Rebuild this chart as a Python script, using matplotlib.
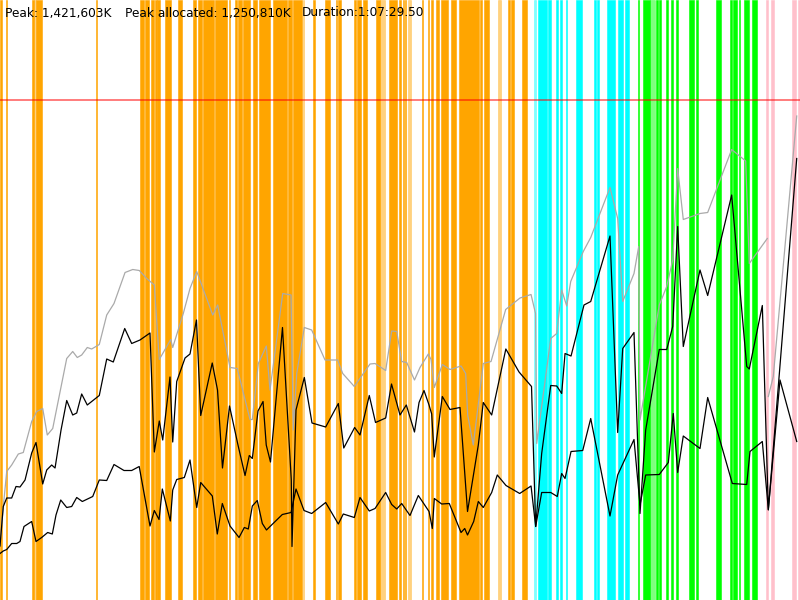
import numpy as np
import matplotlib
matplotlib.use("Agg")
import matplotlib.pyplot as plt

# time in % of run duration, memory in % of peak (1,421,603K)
PEAK_K = 1421603
PEAK_ALLOC_K = 1250810
DURATION = "1:07:29.50"

alloc_t = [0, 0.41, 0.84, 1.46, 2.0, 2.5, 3.13, 3.96, 4.5, 5.34, 5.84, 6.46, 6.88, 7.63, 8.34,
           9.09, 9.59, 10.21, 10.91, 12.41, 13.34, 14.16, 15.59, 16.46, 17.5, 18.75, 19.29,
           19.91, 20.34, 21.25, 21.59, 22.09, 23.13, 23.75, 24.56, 25.09, 26.53, 27.19, 27.81,
           28.69, 29.79, 30.63, 31.16, 31.54, 32.25, 32.88, 33.28, 33.81, 35.31, 36.41, 36.5,
           37.0, 38.04, 39.0, 40.71, 42.29, 42.97, 44.33, 45.0, 46.16, 46.94, 48.21, 48.94,
           50.0, 50.79, 51.81, 52.38, 53.0, 53.63, 53.96, 54.28, 55.29, 56.25, 57.5, 58.44,
           59.79, 60.41, 61.46, 63.23, 64.88, 66.44, 66.96, 67.71, 68.84, 69.59, 70.21, 70.63,
           71.38, 73.0, 73.84, 76.25, 77.21, 77.84, 79.25, 80.0, 80.71, 82.41, 83.34, 84.09,
           84.71, 85.41, 87.5, 88.46, 91.46, 93.34, 93.66, 95.29, 96.04, 99.59]
alloc_v = [10.8, 18.7, 20.4, 20.4, 22.7, 22.6, 24.0, 29.4, 31.5, 23.2, 26.0, 27.0, 26.4, 34.0, 39.9,
           37.0, 37.4, 41.2, 39.0, 40.9, 48.2, 47.6, 54.3, 51.3, 52.0, 53.4, 29.6,
           35.8, 32.0, 44.6, 31.6, 43.7, 48.4, 49.2, 56.0, 36.9, 47.4, 42.0, 26.4,
           38.8, 30.7, 24.9, 28.9, 28.3, 37.8, 39.7, 31.0, 27.6, 54.5, 24.0, 10.7,
           38.0, 44.5, 35.4, 34.6, 39.3, 30.4, 34.5, 33.0, 40.9, 35.5, 36.4, 43.2,
           37.0, 39.0, 33.6, 39.5, 41.9, 39.0, 37.2, 28.6, 40.7, 38.1, 38.5, 17.7,
           31.0, 39.5, 37.0, 50.2, 45.6, 42.7, 14.7, 29.3, 42.9, 42.8, 41.3, 49.3,
           48.8, 59.0, 59.7, 72.8, 33.5, 50.3, 53.5, 17.3, 34.0, 50.1, 50.1, 54.7,
           74.7, 50.7, 66.0, 60.9, 81.0, 46.7, 46.2, 58.9, 18.0, 88.3]

live_t = [0, 0.41, 0.84, 1.46, 2.09, 2.5, 3.0, 3.96, 4.5, 5.21, 5.96, 6.54, 7.0, 7.59, 8.34,
          8.96, 9.59, 10.29, 11.59, 12.41, 13.34, 14.25, 15.5, 16.46, 17.4, 18.75, 19.29,
          19.88, 20.29, 21.29, 21.59, 22.09, 23.04, 23.75, 24.59, 25.09, 26.54, 27.16, 27.79,
          28.75, 29.88, 30.54, 31.04, 31.54, 32.16, 32.79, 33.31, 33.69, 35.29, 36.38, 37.0,
          38.0, 38.96, 40.71, 42.29, 42.91, 44.29, 45.0, 46.16, 46.88, 48.21, 48.96, 49.59,
          50.21, 51.25, 52.29, 53.63, 54.04, 54.29, 55.21, 56.16, 57.63, 58.09, 58.44, 59.21,
          59.79, 60.41, 61.46, 62.16, 63.25, 64.96, 66.38, 66.96, 67.71, 68.84, 69.66, 70.21,
          70.63, 71.38, 72.84, 73.84, 76.25, 77.21, 79.25, 80.0, 80.71, 82.41, 83.54, 84.16,
          84.71, 85.41, 87.5, 88.46, 91.54, 93.34, 93.75, 95.29, 96.04, 97.5, 99.59]
live_v = [9.3, 9.8, 10.1, 11.3, 11.3, 11.7, 14.7, 15.7, 11.7, 12.5, 13.5, 13.2, 17.0, 20.0, 18.5,
          18.7, 20.5, 19.7, 20.7, 24.0, 23.9, 27.1, 25.9, 25.9, 26.7, 14.8, 17.9,
          16.1, 22.2, 15.8, 22.0, 24.1, 24.5, 28.0, 18.5, 23.5, 20.8, 13.2, 19.3,
          14.8, 12.5, 14.5, 14.2, 18.8, 19.9, 15.3, 14.0, 14.6, 17.1, 17.5, 22.2,
          17.9, 17.3, 19.5, 15.2, 17.2, 16.5, 20.5, 17.8, 18.3, 21.5, 19.1, 18.2,
          19.3, 16.9, 20.9, 17.7, 14.3, 20.3, 19.2, 19.3, 13.5, 14.3, 13.0, 15.7,
          19.7, 18.5, 21.5, 25.0, 22.9, 21.3, 22.8, 14.7, 21.5, 21.5, 20.7, 25.3,
          24.3, 29.7, 29.9, 36.3, 16.8, 25.0, 32.1, 19.0, 25.0, 25.1, 27.5, 37.3,
          25.5, 32.8, 30.3, 40.5, 23.3, 23.1, 29.7, 31.7, 18.1, 44.0, 31.7]

heap_t = [0, 0.25, 0.84, 1.46, 2.29, 2.91, 3.96, 4.59, 5.34, 5.91, 6.59, 8.34, 9.09, 9.66,
          10.21, 10.91, 11.46, 12.41, 13.34, 14.25, 15.63, 16.59, 17.41, 18.34, 19.29, 19.91,
          21.34, 21.59, 22.91, 23.75, 24.59, 26.59, 27.21, 28.75, 29.66, 31.25, 31.54, 32.29,
          33.29, 33.75, 35.34, 36.38, 36.66, 37.09, 38.04, 38.96, 40.63, 42.21, 42.84, 44.29,
          46.25, 46.88, 48.21, 48.96, 49.59, 50.21, 50.84, 51.81, 52.5, 53.54, 53.88, 54.29,
          55.29, 56.25, 57.63, 58.21, 58.46, 59.16, 60.41, 61.38, 63.21, 65.0, 66.38, 66.94,
          67.09, 68.84, 69.59, 70.21, 70.84, 71.34, 72.91, 73.84, 76.25, 77.21, 77.84, 79.25,
          79.84, 80.0, 82.41, 83.34, 84.09, 84.71, 85.41, 87.5, 88.46, 91.46, 93.21, 93.66,
          95.91, 96.0, 96.04, 96.66, 99.59]
heap_v = [10.8, 16.0, 25.7, 27.0, 29.2, 29.5, 35.7, 37.7, 38.3, 33.0, 34.3, 48.3, 49.7, 48.5,
          49.0, 50.5, 50.2, 51.1, 57.0, 59.3, 65.5, 66.1, 65.9, 64.3, 63.0, 48.1,
          52.1, 50.5, 57.3, 62.3, 65.7, 57.0, 59.0, 46.5, 46.3, 36.1, 36.1, 47.3,
          50.8, 42.0, 61.3, 61.0, 34.0, 45.3, 54.5, 54.0, 48.0, 48.0, 45.3, 42.7,
          47.2, 47.3, 45.9, 53.8, 53.7, 47.7, 47.5, 44.0, 46.5, 49.2, 48.1, 42.5,
          47.1, 46.1, 46.8, 45.3, 37.0, 31.0, 47.3, 47.7, 58.1, 60.4, 61.1, 57.3,
          31.3, 52.3, 53.3, 62.0, 58.8, 63.7, 69.7, 72.5, 82.5, 76.3, 59.7, 65.3,
          70.7, 36.0, 59.0, 62.7, 68.0, 86.3, 76.1, 77.3, 77.5, 90.1, 87.8, 67.3,
          72.3, np.nan, 40.7, 44.7, 96.8]

# phase bands (start, end) in % of run
orange_bands = [(0, 0.25), (0.75, 0.91), (4.0, 4.29), (4.54, 5.25), (12.0, 12.16), (17.5, 18.0),
                (18.16, 18.63), (18.84, 19.25), (19.38, 19.59), (19.66, 20.0), (20.59, 21.34),
                (22.25, 22.71), (24.13, 24.5), (24.79, 25.21), (25.34, 26.75), (26.88, 28.34),
                (28.66, 28.75), (29.38, 29.66), (29.79, 30.21), (30.34, 31.25), (31.59, 32.16),
                (32.38, 33.75), (34.16, 35.91), (36.04, 36.5), (36.66, 37.71), (39.09, 39.38),
                (40.63, 41.25), (42.0, 42.16), (42.29, 42.59), (44.25, 44.46), (44.66, 45.09),
                (45.34, 45.91), (46.96, 47.5), (48.66, 49.59), (49.84, 50.13), (50.34, 50.5),
                (50.63, 50.75), (52.71, 52.91), (53.46, 53.66), (53.88, 54.09), (54.5, 54.91),
                (55.13, 55.96), (56.38, 57.0), (57.41, 59.91), (60.0, 60.25), (60.5, 61.13),
                (63.46, 63.75), (63.88, 64.25), (65.25, 65.88)]
orange_light = [(4.29, 4.54), (37.84, 38.04), (47.5, 48.13), (51.04, 51.38), (62.29, 62.59)]
cyan_bands = [(67.21, 68.41), (68.54, 68.84), (69.5, 69.75), (70.0, 70.25), (70.75, 70.91),
              (71.96, 72.71), (74.29, 74.5), (74.66, 74.91), (75.84, 76.88), (77.29, 77.91),
              (78.13, 78.66)]
cyan_light = [(66.75, 67.0)]
green_bands = [(79.71, 79.91), (80.34, 81.25), (82.0, 82.29), (82.41, 82.59), (83.21, 83.46),
               (83.84, 84.16), (84.5, 84.71), (86.16, 86.79), (86.96, 87.21), (89.46, 90.13),
               (91.25, 91.5), (91.59, 92.13), (92.38, 92.5), (93.04, 93.63), (93.96, 94.66)]
green_light = [(81.25, 81.88)]
pink_bands = [(95.75, 95.96), (96.38, 96.75), (98.96, 99.5), (99.79, 100)]

fig = plt.figure(figsize=(8, 6), dpi=100)
ax = fig.add_axes([0, 0, 1, 1])

for bands, col, a in [(orange_bands, '#ffa500', 1), (orange_light, '#ffa500', 0.5),
                      (cyan_bands, '#00ffff', 1), (cyan_light, '#00ffff', 0.5),
                      (green_bands, '#00ff00', 1), (green_light, '#00ff00', 0.5),
                      (pink_bands, '#ffc0cb', 1)]:
    for s, e in bands:
        ax.axvspan(s, e, facecolor=col, edgecolor=col, alpha=a, lw=0.4)

ax.axhline(100, color='red', alpha=0.6, lw=1.2)
ax.plot(heap_t, heap_v, color='#aaaaaa', lw=0.9)
ax.plot(alloc_t, alloc_v, color='black', lw=0.9)
ax.plot(live_t, live_v, color='black', lw=0.9)

ax.set_xlim(0, 100)
ax.set_ylim(0, 120)
ax.axis('off')

fs = 8.7
fig.text(5 / 800, 1 - 13 / 600, "Peak: %sK" % format(PEAK_K, ','), fontsize=fs, va='center')
fig.text(125 / 800, 1 - 13 / 600, "Peak allocated: %sK" % format(PEAK_ALLOC_K, ','), fontsize=fs, va='center')
fig.text(302 / 800, 1 - 13 / 600, "Duration:" + DURATION, fontsize=fs, va='center')

fig.savefig("out.png", dpi=100, facecolor='white')
